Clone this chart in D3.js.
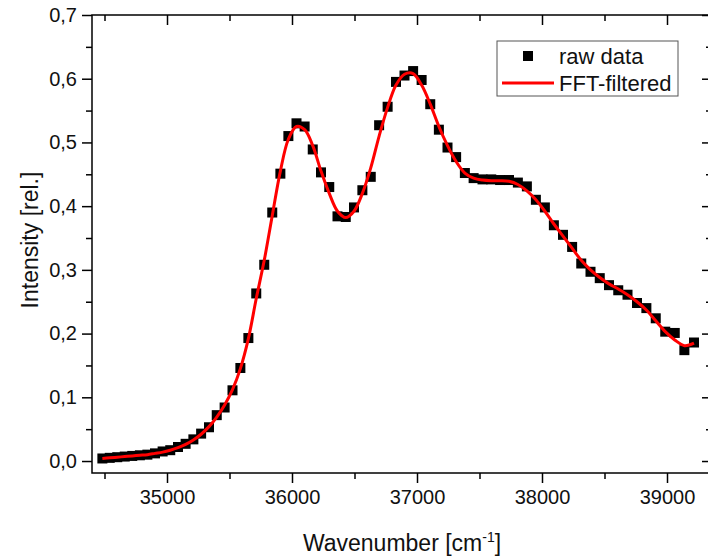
<!DOCTYPE html>
<html>
<head>
<meta charset="utf-8">
<script src="https://cdn.jsdelivr.net/npm/d3@7"></script>
<style>
  body { margin: 0; background: #fff; }
  svg { display: block; font-family: "Liberation Sans", Arial, sans-serif; }
</style>
</head>
<body>
<div id="chart"></div>
<script>
// wavenumbers of the raw points (cm-1)
var wavenumber = [34483, 34542, 34602, 34662, 34722, 34783, 34843, 34904, 34965, 35026,
  35088, 35149, 35211, 35273, 35336, 35398, 35461, 35524, 35587, 35651,
  35714, 35778, 35842, 35907, 35971, 36036, 36101, 36166, 36232, 36298,
  36364, 36430, 36496, 36563, 36630, 36697, 36765, 36832, 36900, 36969,
  37037, 37106, 37175, 37244, 37313, 37383, 37453, 37524, 37594, 37665,
  37736, 37807, 37879, 37951, 38023, 38095, 38168, 38241, 38314, 38388,
  38462, 38536, 38610, 38684, 38760, 38835, 38910, 38986, 39062, 39139, 39216];

var rawData = [0.004, 0.005, 0.006, 0.007, 0.008, 0.009, 0.010, 0.012, 0.015, 0.017,
  0.022, 0.027, 0.034, 0.043, 0.053, 0.072, 0.084, 0.111, 0.146, 0.193,
  0.263, 0.308, 0.390, 0.451, 0.510, 0.530, 0.525, 0.489, 0.453, 0.430,
  0.384, 0.383, 0.398, 0.425, 0.446, 0.527, 0.556, 0.595, 0.605, 0.612,
  0.598, 0.560, 0.520, 0.492, 0.477, 0.452, 0.444, 0.442, 0.442, 0.441,
  0.441, 0.437, 0.431, 0.410, 0.398, 0.370, 0.355, 0.336, 0.310, 0.297,
  0.287, 0.276, 0.268, 0.261, 0.248, 0.240, 0.224, 0.203, 0.201, 0.174, 0.186];

var fftFiltered = [0.004, 0.005, 0.006, 0.007, 0.008, 0.009, 0.010, 0.012, 0.014, 0.017,
  0.021, 0.026, 0.033, 0.042, 0.054, 0.069, 0.088, 0.112, 0.145, 0.192,
  0.255, 0.315, 0.385, 0.455, 0.505, 0.525, 0.520, 0.495, 0.455, 0.420,
  0.392, 0.382, 0.392, 0.420, 0.460, 0.510, 0.555, 0.590, 0.607, 0.608,
  0.590, 0.560, 0.525, 0.495, 0.470, 0.452, 0.444, 0.441, 0.440, 0.440,
  0.439, 0.434, 0.424, 0.410, 0.392, 0.372, 0.353, 0.334, 0.315, 0.300,
  0.288, 0.278, 0.270, 0.261, 0.250, 0.237, 0.220, 0.203, 0.190, 0.181, 0.185];

var xMajor = [35000, 36000, 37000, 38000, 39000];
var xMinor = [34500, 35500, 36500, 37500, 38500];
var yMajor = [0.0, 0.1, 0.2, 0.3, 0.4, 0.5, 0.6, 0.7];
var yMinor = [0.05, 0.15, 0.25, 0.35, 0.45, 0.55, 0.65];
var seriesNames = ["raw data", "FFT-filtered"];

var W = 708, H = 558;
var mLeft = 92, mRight = 712, mTop = 15, mBottom = 473;

var rows = wavenumber.map(function (w, i) {
  return {x: w, raw: rawData[i], fit: fftFiltered[i]};
});

var x = d3.scaleLinear().domain([34400, 39360]).range([mLeft, mRight]);
var y = d3.scaleLinear().domain([-0.0188, 0.7]).range([mBottom, mTop]);
var fmt = function (d) { return d3.format(".1f")(d).replace(".", ","); };

var svg = d3.select("#chart").append("svg")
  .attr("width", W)
  .attr("height", H);

function styleAxis(g) {
  g.select(".domain").remove();
  g.selectAll("line").attr("stroke", "#000").attr("stroke-width", 1.5);
  g.selectAll("text").attr("fill", "#111").style("font-size", "20px");
}

// bottom axis, outward ticks
svg.append("g")
  .attr("transform", "translate(0," + mBottom + ")")
  .call(d3.axisBottom(x).tickValues(xMajor).tickSize(10).tickPadding(7).tickFormat(d3.format("d")))
  .call(styleAxis);
svg.append("g")
  .attr("transform", "translate(0," + mBottom + ")")
  .call(d3.axisBottom(x).tickValues(xMinor).tickSize(6).tickFormat(""))
  .call(styleAxis);

// top axis, inward ticks
svg.append("g")
  .attr("transform", "translate(0," + mTop + ")")
  .call(d3.axisTop(x).tickValues(xMajor).tickSize(-10).tickFormat(""))
  .call(styleAxis);
svg.append("g")
  .attr("transform", "translate(0," + mTop + ")")
  .call(d3.axisTop(x).tickValues(xMinor).tickSize(-6).tickFormat(""))
  .call(styleAxis);

// left axis, outward ticks
svg.append("g")
  .attr("transform", "translate(" + mLeft + ",0)")
  .call(d3.axisLeft(y).tickValues(yMajor).tickSize(10).tickPadding(5).tickFormat(fmt))
  .call(styleAxis);
svg.append("g")
  .attr("transform", "translate(" + mLeft + ",0)")
  .call(d3.axisLeft(y).tickValues(yMinor).tickSize(6).tickFormat(""))
  .call(styleAxis);

// right axis, inward ticks
svg.append("g")
  .attr("transform", "translate(" + mRight + ",0)")
  .call(d3.axisRight(y).tickValues(yMajor).tickSize(-10).tickFormat(""))
  .call(styleAxis);
svg.append("g")
  .attr("transform", "translate(" + mRight + ",0)")
  .call(d3.axisRight(y).tickValues(yMinor).tickSize(-6).tickFormat(""))
  .call(styleAxis);

// frame
svg.append("rect")
  .attr("x", mLeft)
  .attr("y", mTop)
  .attr("width", mRight - mLeft)
  .attr("height", mBottom - mTop)
  .attr("fill", "none")
  .attr("stroke", "#000")
  .attr("stroke-width", 1.5);

// raw data squares
var sq = 10;
svg.append("g")
  .selectAll("rect")
  .data(rows)
  .enter().append("rect")
  .attr("x", function (d) { return x(d.x) - sq / 2; })
  .attr("y", function (d) { return y(d.raw) - sq / 2; })
  .attr("width", sq)
  .attr("height", sq)
  .attr("fill", "#000");

// filtered curve
var line = d3.line()
  .x(function (d) { return x(d.x); })
  .y(function (d) { return y(d.fit); })
  .curve(d3.curveCatmullRom);

svg.append("path")
  .datum(rows)
  .attr("d", line)
  .attr("fill", "none")
  .attr("stroke", "#ff0000")
  .attr("stroke-width", 3);

// axis titles
svg.append("text")
  .attr("x", (mLeft + mRight) / 2)
  .attr("y", 551)
  .attr("text-anchor", "middle")
  .attr("fill", "#111")
  .style("font-size", "23px")
  .html('Wavenumber [cm<tspan dy="-9" style="font-size:14px">-1</tspan><tspan dy="9">]</tspan>');

svg.append("text")
  .attr("transform", "translate(38," + ((mTop + mBottom) / 2 - 4) + ") rotate(-90)")
  .attr("text-anchor", "middle")
  .attr("fill", "#111")
  .style("font-size", "23px")
  .text("Intensity [rel.]");

// legend
var legend = svg.append("g");
legend.append("rect")
  .attr("x", 497).attr("y", 41)
  .attr("width", 181).attr("height", 55)
  .attr("fill", "#fff")
  .attr("stroke", "#555")
  .attr("stroke-width", 1);
legend.append("rect")
  .attr("x", 523).attr("y", 51)
  .attr("width", sq).attr("height", sq)
  .attr("fill", "#000");
legend.append("line")
  .attr("x1", 502).attr("x2", 554)
  .attr("y1", 83).attr("y2", 83)
  .attr("stroke", "#ff0000")
  .attr("stroke-width", 3);
legend.selectAll("text.lab")
  .data(seriesNames)
  .enter().append("text")
  .attr("class", "lab")
  .attr("x", 559)
  .attr("y", function (d, i) { return 64 + i * 27; })
  .attr("fill", "#111")
  .style("font-size", "22px")
  .text(function (d) { return d; });
</script>
</body>
</html>
